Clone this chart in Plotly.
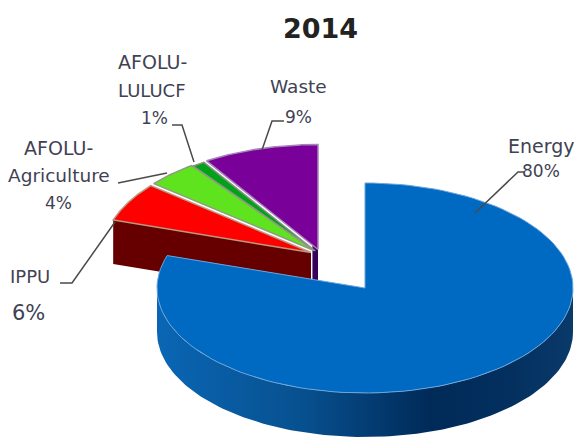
import numpy as np
import plotly.graph_objects as go

categories = ["Energy", "IPPU", "AFOLU-Agriculture", "AFOLU-LULUCF", "Waste"]
shares = [80, 6, 4, 1, 9]
top_colors = ["#0069c2", "#ff0000", "#5fe31e", "#00a316", "#7a009a"]
edge_colors = ["#6aa5dc", "#b99a80", "#8f9a80", "#8a8f8a", "#a585b8"]
edge_widths = [1, 1.5, 1.5, 1.5, 1.5]
wall_colors = ["#0a5fa8", "#660000", None, None, "#36005c"]
wall_reach = [0, 1, 0, 0, 0.05]
apex_x = [365, 311, 314, 315.4, 318]
apex_y = [288, 252.5, 250.5, 251, 249.5]

RX, RY, DEPTH = 208, 105, 44
W, H = 574, 437
FONT = "DejaVu Sans"
TEXT = "#3f4254"


def arc(cx, cy, a0, a1, dy=0, n=120):
    t = np.radians(np.linspace(a0, a1, n))
    return cx + RX * np.sin(t), cy + dy - RY * np.cos(t)


def add_poly(fig, xs, ys, fill, line=None, width=1, name="", gradient=None):
    kw = dict(fillgradient=gradient) if gradient else dict(fillcolor=fill)
    fig.add_trace(go.Scatter(
        x=list(xs), y=list(ys), mode="lines", fill="toself",
        line=dict(color=line or "rgba(0,0,0,0)", width=width),
        name=name, hoverinfo="name", showlegend=False, **kw))


fig = go.Figure()
edges = np.concatenate([[0], np.cumsum(shares)]) * 3.6

# back-to-front: Waste, LULUCF, Agriculture, IPPU, Energy
for i in [4, 3, 2, 1, 0]:
    a0, a1 = edges[i], edges[i + 1]
    cx, cy = apex_x[i], apex_y[i]
    ax, ay = arc(cx, cy, a0, a1)
    if i == 0:
        bx, by = arc(cx, cy, 90, 270)
        dx, dy = arc(cx, cy, 270, 90, dy=DEPTH)
        add_poly(fig, np.r_[bx, dx, bx[0]], np.r_[by, dy, by[0]], None,
                 name=categories[i],
                 gradient=dict(type="horizontal", colorscale=[
                     [0.0, "#0a66b4"], [0.35, "#07508f"], [0.66, "#002a58"],
                     [0.85, "#03305f"], [1.0, "#0a3a6a"]]))
    elif wall_colors[i]:
        px = cx + wall_reach[i] * (ax[0] - cx)
        py = cy + wall_reach[i] * (ay[0] - cy)
        add_poly(fig, [cx, px, px, cx, cx], [cy, py, py + DEPTH, cy + DEPTH, cy],
                 wall_colors[i], name=categories[i])
    add_poly(fig, np.r_[cx, ax, cx], np.r_[cy, ay, cy], top_colors[i],
             line=edge_colors[i], width=edge_widths[i], name=categories[i])

leaders = [
    ([475, 518, 524], [213, 172, 172]),
    ([60, 72, 115], [283, 283, 222]),
    ([118, 167], [183, 173]),
    ([172, 182, 194], [125, 125, 162]),
    ([262, 272, 284], [150, 121, 121]),
]
for lx, ly in leaders:
    fig.add_trace(go.Scatter(x=lx, y=ly, mode="lines", hoverinfo="skip", showlegend=False,
                             line=dict(color="#4a4a4a", width=1.5)))

labels = [
    ("Energy", 541, 146, 19), (f"{shares[0]}%", 541, 171, 17),
    ("IPPU", 30, 276, 18), (f"{shares[1]}%", 28, 313, 21),
    ("AFOLU-", 58, 148, 19), ("Agriculture", 59, 175, 18.5), (f"{shares[2]}%", 58, 203, 17),
    ("AFOLU-", 152, 62, 19), ("LULUCF", 152, 90, 18), (f"{shares[3]}%", 154, 118, 17),
    ("Waste", 298, 86, 18.5), (f"{shares[4]}%", 298, 117, 17),
]
for txt, x, y, size in labels:
    fig.add_annotation(x=x, y=y, text=txt, showarrow=False, xref="x", yref="y",
                       font=dict(family=FONT, size=size, color=TEXT))
fig.add_annotation(x=320, y=28, text="<b>2014</b>", showarrow=False, xref="x", yref="y",
                   font=dict(family=FONT, size=27, color="#222222"))

fig.update_layout(width=W, height=H, margin=dict(l=0, r=0, t=0, b=0),
                  paper_bgcolor="white", plot_bgcolor="white", showlegend=False)
fig.update_xaxes(range=[0, W], visible=False, fixedrange=True)
fig.update_yaxes(range=[H, 0], visible=False, fixedrange=True)
fig.write_html("out.html", config={"displayModeBar": False},
               post_script="document.body.style.margin='0';document.documentElement.style.overflow='hidden';")
